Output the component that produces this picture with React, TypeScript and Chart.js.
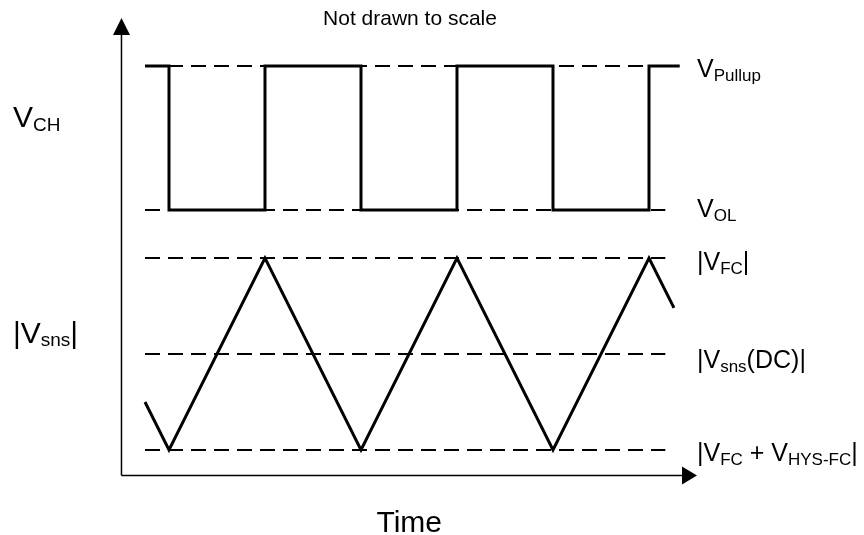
import React, { useEffect, useRef } from "react";
import { Chart, registerables } from "chart.js";

Chart.register(...registerables);

// Time in half-periods, level in abstract voltage units
const squareTimes = [0.75, 1, 2, 3, 4, 5, 6, 6.32];
const squareLevels = [8, 5, 8, 5, 8, 5, 8, 8];
const triangleTimes = [0.75, 1, 2, 3, 4, 5, 6, 6.26];
const triangleLevels = [1, 0, 4, 0, 4, 0, 4, 2.96];

const refLevels = [8, 5, 4, 2, 0];
const refStart = 0.75;
const refEnd = 6.17;
type Part = [string, boolean];
const refLabels: Part[][] = [
  [["V", false], ["Pullup", true]],
  [["V", false], ["OL", true]],
  [["|V", false], ["FC", true], ["|", false]],
  [["|V", false], ["sns", true], ["(DC)|", false]],
  [["|V", false], ["FC", true], [" + V", false], ["HYS-FC", true], ["|", false]],
];
const leftLabels: Part[][] = [
  [["V", false], ["CH", true]],
  [["|V", false], ["sns", true], ["|", false]],
];
const titleText = "Not drawn to scale";
const xAxisTitle = "Time";

const axisOriginTime = 0.505;
const axisOriginLevel = -0.53;
const axisTimeEnd = 6.5;
const axisLevelEnd = 9.0;

const FONT = '"Liberation Sans", Arial, Helvetica, sans-serif';

function drawRich(
  ctx: CanvasRenderingContext2D,
  parts: Part[],
  x: number,
  baseline: number,
  main: number,
  sub: number,
  drop: number
) {
  let cx = x;
  for (const [t, s] of parts) {
    ctx.font = `${s ? sub : main}px ${FONT}`;
    ctx.fillText(t, cx, baseline + (s ? drop : 0));
    cx += ctx.measureText(t).width;
  }
}

const decorPlugin = {
  id: "decor",
  afterDraw(chart: any) {
    const ctx: CanvasRenderingContext2D = chart.ctx;
    const xs = chart.scales.x;
    const ys = chart.scales.y;
    const ox = xs.getPixelForValue(axisOriginTime);
    const oy = ys.getPixelForValue(axisOriginLevel);
    const ex = xs.getPixelForValue(axisTimeEnd);
    const ey = ys.getPixelForValue(axisLevelEnd);
    ctx.save();
    ctx.strokeStyle = "#000";
    ctx.fillStyle = "#000";
    ctx.lineWidth = 1.5;
    // y axis
    ctx.beginPath();
    ctx.moveTo(ox, oy);
    ctx.lineTo(ox, ey + 15);
    ctx.stroke();
    ctx.beginPath();
    ctx.moveTo(ox, ey);
    ctx.lineTo(ox - 8.5, ey + 17);
    ctx.lineTo(ox + 8.5, ey + 17);
    ctx.closePath();
    ctx.fill();
    // x axis
    ctx.beginPath();
    ctx.moveTo(ox, oy);
    ctx.lineTo(ex - 13, oy);
    ctx.stroke();
    ctx.beginPath();
    ctx.moveTo(ex, oy);
    ctx.lineTo(ex - 15, oy - 9);
    ctx.lineTo(ex - 15, oy + 9);
    ctx.closePath();
    ctx.fill();

    ctx.textBaseline = "alphabetic";
    ctx.textAlign = "left";
    // right-hand level labels
    const nudges = [11, 7, 12, 14, 11];
    refLevels.forEach((lv, i) => {
      const py = ys.getPixelForValue(lv);
      drawRich(ctx, refLabels[i], 697, py + nudges[i], 25, 17, 4);
    });
    // left labels
    drawRich(ctx, leftLabels[0], 13, 127, 30, 19, 4);
    drawRich(ctx, leftLabels[1], 13, 343, 30, 19, 3);

    // title
    ctx.font = `21px ${FONT}`;
    ctx.textAlign = "center";
    ctx.fillText(titleText, 410, 25);
    // axis title
    ctx.font = `30px ${FONT}`;
    ctx.fillText(xAxisTitle, (ox + ex) / 2, 532);
    ctx.restore();
  },
};

export default function App() {
  const ref = useRef<HTMLCanvasElement | null>(null);
  useEffect(() => {
    if (!ref.current) return;
    const pts = (xs: number[], ys: number[]) => xs.map((x, i) => ({ x, y: ys[i] }));
    const dashed = refLevels.map((lv) => ({
      data: [
        { x: refStart, y: lv },
        { x: refEnd, y: lv },
      ],
      borderColor: "#000",
      borderWidth: 2,
      borderDash: [15, 8],
      borderCapStyle: "butt" as const,
      pointRadius: 0,
      order: 2,
    }));
    const chart = new Chart(ref.current, {
      type: "line",
      data: {
        datasets: [
          {
            data: pts(squareTimes, squareLevels),
            stepped: "before" as const,
            borderColor: "#000",
            borderWidth: 3,
            borderJoinStyle: "miter" as const,
            borderCapStyle: "butt" as const,
            pointRadius: 0,
            order: 0,
          },
          {
            data: pts(triangleTimes, triangleLevels),
            borderColor: "#000",
            borderWidth: 3,
            borderJoinStyle: "miter" as const,
            borderCapStyle: "butt" as const,
            pointRadius: 0,
            tension: 0,
            order: 0,
          },
          ...dashed,
        ],
      },
      options: {
        animation: false,
        responsive: false,
        devicePixelRatio: 1,
        layout: { padding: 0 },
        plugins: { legend: { display: false }, tooltip: { enabled: false } },
        scales: {
          x: { type: "linear", min: -0.7604, max: 8.2396, display: false },
          y: { type: "linear", min: -1.7708, max: 9.375, display: false },
        },
      },
      plugins: [decorPlugin],
    });
    return () => chart.destroy();
  }, []);
  return (
    <canvas
      ref={ref}
      width={864}
      height={535}
      style={{ position: "absolute", left: 0, top: 0, display: "block", background: "#fff" }}
    />
  );
}
